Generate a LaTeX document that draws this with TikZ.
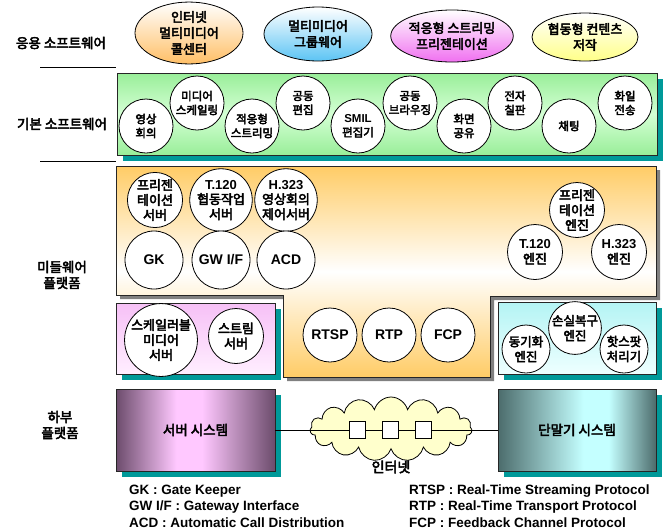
\documentclass[tikz,border=0pt]{standalone}
\usepackage{fontspec}
\setmainfont{Liberation Sans}
\newfontfamily\kr{Noto Sans CJK KR}[FakeBold=3.5, BoldFont={Noto Sans CJK KR}, BoldFeatures={FakeBold=3.5}]
\usetikzlibrary{shapes.geometric,shapes.symbols,shadows}
\definecolor{tealsh}{HTML}{009999}
\definecolor{shgray}{HTML}{808080}
\definecolor{orangeC}{HTML}{FFCC66}
\definecolor{greenA}{HTML}{99EE99}
\definecolor{greenB}{HTML}{D4FFD4}
\definecolor{pinkA}{HTML}{F6C0F6}
\definecolor{pinkB}{HTML}{FFEEFF}
\definecolor{cyanA}{HTML}{B4F4F4}
\definecolor{cyanB}{HTML}{EEFFFF}
\definecolor{srvD}{HTML}{6C4C6C}
\definecolor{srvP}{HTML}{FFC8FF}
\definecolor{termD}{HTML}{4C6C6C}
\definecolor{termC}{HTML}{C4FFFF}
\definecolor{cloudY}{HTML}{FFFFCC}
\definecolor{eA}{HTML}{FFBF66}
\definecolor{eB}{HTML}{5CC4F4}
\definecolor{eC}{HTML}{F070F0}
\definecolor{eD}{HTML}{FFFF88}
\pgfdeclarehorizontalshading{srvsh}{100bp}{color(0bp)=(srvD); color(25bp)=(srvD); color(44bp)=(srvP); color(52bp)=(srvP); color(75bp)=(srvD); color(100bp)=(srvD)}
\pgfdeclarehorizontalshading{termsh}{100bp}{color(0bp)=(termD); color(25bp)=(termD); color(52bp)=(termC); color(60bp)=(termC); color(75bp)=(termD); color(100bp)=(termD)}
\newcommand\EN[1]{{\rmfamily #1}}
\begin{document}
\begin{tikzpicture}[x=1pt,y=-1pt,
  every node/.style={inner sep=0pt},
  side/.style={font=\kr\bfseries\fontsize{13.5}{16}\selectfont, align=center},
  ell/.style={ellipse, draw=black, line width=0.8pt, top color=white, shading angle=45, align=center, font=\kr\bfseries\fontsize{13}{16}\selectfont},
  gc/.style={circle, draw=black, line width=0.8pt, fill=white, minimum size=54, align=center, font=\kr\bfseries\fontsize{11.5}{14}\selectfont},
  mc/.style={circle, draw=black, line width=0.8pt, fill=white, minimum size=55, align=center, font=\kr\bfseries\fontsize{13}{15}\selectfont},
  big/.style={mc, minimum size=58, font=\rmfamily\bfseries\fontsize{14}{16}\selectfont},
  box/.style={rectangle, draw=black!85, line width=0.8pt},
  tsh/.style={general shadow={fill=tealsh, shadow xshift=6pt, shadow yshift=-6pt}},
  legend/.style={anchor=west, font=\rmfamily\bfseries\fontsize{13.5}{16}\selectfont},
  sq/.style={rectangle, draw=black, line width=0.6pt, fill=white, minimum width=16, minimum height=17}
]
\useasboundingbox (0,0) rectangle (671,531);

% side labels
\node[side] (l1) at (61,43) {응용 소프트웨어};
\node[side] (l2) at (62,124) {기본 소프트웨어};
\node[side] (l3) at (62,275) {미들웨어\\플랫폼};
\node[side] (l4) at (60,425) {하부\\플랫폼};
\draw[line width=0.8pt] (40,67) -- (116,67);
\draw[line width=0.8pt] (40,161) -- (116,161);

% application ellipses
\node[ell, bottom color=eA, minimum width=108, minimum height=58] (a1) at (189,33) {인터넷\\멀티미디어\\콜센터};
\node[ell, bottom color=eB, minimum width=108, minimum height=54] (a2) at (318,34) {멀티미디어\\그룹웨어};
\node[ell, bottom color=eC, minimum width=110, minimum height=52] (a3) at (452,36) {적응형 스트리밍\\프리젠테이션};
\node[ell, bottom color=eD, minimum width=106, minimum height=48] (a4) at (585,37) {협동형 컨텐츠\\저작};

% basic software box
\node[box, tsh, top color=greenA, bottom color=greenA, middle color=greenB, minimum width=540, minimum height=82] (basic) at (387,114) {};
\node[gc] (b1) at (146,126) {영상\\회의};
\node[gc] (b2) at (197,103) {미디어\\스케일링};
\node[gc] (b3) at (252,126) {적응형\\스트리밍};
\node[gc] (b4) at (303,103) {공동\\편집};
\node[gc] (b5) at (358,126) {\EN{SMIL}\\편집기};
\node[gc] (b6) at (410,103) {공동\\브라우징};
\node[gc] (b7) at (464,126) {화면\\공유};
\node[gc] (b8) at (515,103) {전자\\칠판};
\node[gc] (b9) at (569,126) {채팅};
\node[gc] (b10) at (625,103) {화일\\전송};

% middleware orange shape
\fill[shgray, shift={(4,4)}] (116,166) -- (656,166) -- (656,296) -- (490,296) -- (490,377) -- (283,377) -- (283,295) -- (116,295) -- cycle;
\draw[draw=black!85, line width=0.8pt, top color=orangeC, bottom color=orangeC, middle color=white] (116,166) -- (656,166) -- (656,296) -- (490,296) -- (490,377) -- (283,377) -- (283,295) -- (116,295) -- cycle;

\node[mc] (m1) at (155,200) {프리젠\\테이션\\서버};
\node[mc] (m2) at (221,200) {\EN{T.120}\\협동작업\\서버};
\node[mc] (m3) at (286,200) {\EN{H.323}\\영상회의\\제어서버};
\node[big] (gk) at (154,260) {GK};
\node[big] (gw) at (221,260) {GW I/F};
\node[big] (acd) at (286,260) {ACD};
\node[mc] (e1) at (577,210) {프리젠\\테이션\\엔진};
\node[mc] (e2) at (535,252) {\EN{T.120}\\엔진};
\node[mc] (e3) at (619,252) {\EN{H.323}\\엔진};
\node[big, minimum size=54] (rtsp) at (330,335) {RTSP};
\node[big, minimum size=54] (rtp) at (389,335) {RTP};
\node[big, minimum size=54] (fcp) at (448,335) {FCP};

% pink box
\node[box, tsh, top color=pinkA, bottom color=pinkB, minimum width=159, minimum height=71] (pink) at (195.5,338.5) {};
\node[mc] (p1) at (161,340) {스케일러블\\미디어\\서버};
\node[mc] (p2) at (236,336) {스트림\\서버};

% cyan box
\node[box, tsh, top color=cyanA, bottom color=cyanB, minimum width=158, minimum height=72] (cyan) at (577,338) {};
\node[mc, minimum size=48, font=\kr\bfseries\fontsize{12.5}{15}\selectfont] (c1) at (526,349) {동기화\\엔진};
\node[mc, minimum size=50, font=\kr\bfseries\fontsize{12.5}{15}\selectfont] (c2) at (575,328) {손실복구\\엔진};
\node[mc, minimum size=48, font=\kr\bfseries\fontsize{12.5}{15}\selectfont] (c3) at (624,349) {핫스팟\\처리기};

% lower platform
\node[box, tsh, shading=srvsh, minimum width=159, minimum height=82, font=\kr\bfseries\fontsize{13.5}{16}\selectfont] (srv) at (195.5,430) {서버 시스템};
\node[box, tsh, shading=termsh, minimum width=158, minimum height=82, font=\kr\bfseries\fontsize{13.5}{16}\selectfont] (term) at (577,430) {단말기 시스템};
\node[cloud, cloud puffs=15, aspect=2.6, draw=black, line width=0.8pt, fill=cloudY, minimum width=162, minimum height=64] (net) at (391,429) {};
\node[sq] (s1) at (357,430) {};
\node[sq] (s2) at (390,430) {};
\node[sq] (s3) at (423,430) {};
\draw[line width=0.6pt] (srv) -- (s1) -- (s2) -- (s3) -- (term);
\node[font=\kr\bfseries\fontsize{14}{16}\selectfont] (netl) at (391,467) {인터넷};

% legends
\node[legend] (g1) at (129,491) {GK : Gate Keeper};
\node[legend] (g2) at (129,507) {GW I/F : Gateway Interface};
\node[legend] (g3) at (129,523) {ACD : Automatic Call Distribution};
\node[legend] (g4) at (409,491) {RTSP : Real-Time Streaming Protocol};
\node[legend] (g5) at (409,507) {RTP : Real-Time Transport Protocol};
\node[legend] (g6) at (409,523) {FCP : Feedback Channel Protocol};
\end{tikzpicture}
\end{document}
